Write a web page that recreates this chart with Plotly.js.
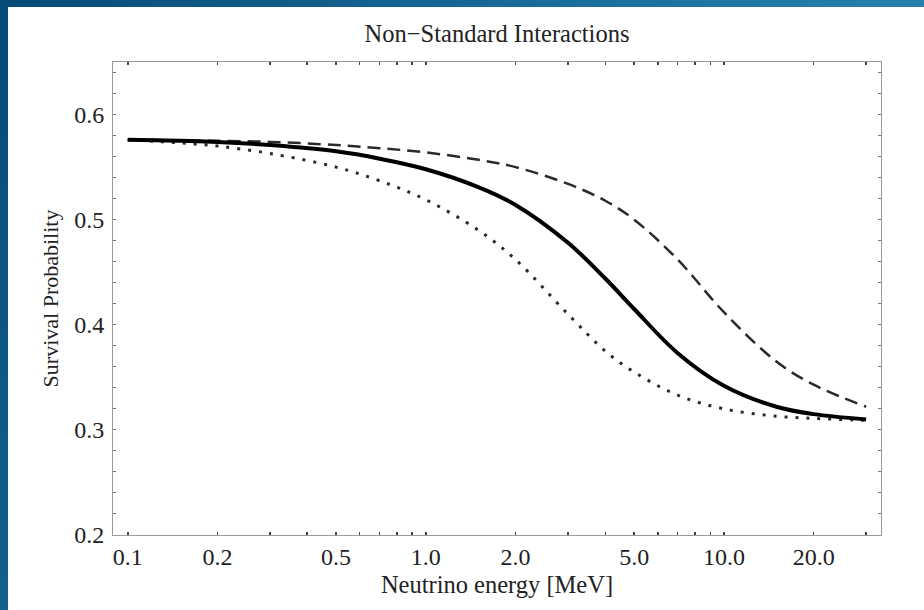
<!DOCTYPE html>
<html>
<head>
<meta charset="utf-8">
<script src="https://cdn.plot.ly/plotly-3.0.1.min.js"></script>
<style>
  html, body { margin: 0; padding: 0; }
  body {
    width: 924px; height: 610px; overflow: hidden;
    background: linear-gradient(120deg, #064a77 0%, #1f76a3 55%, #3590ba 100%);
    position: relative;
  }
  #chart { position: absolute; left: 8px; top: 7px; width: 916px; height: 603px; background: #fff; }
</style>
</head>
<body>
<div id="chart"></div>
<script>
// Neutrino energy (MeV)
const energy = [0.1, 0.15, 0.2, 0.3, 0.5, 0.7, 1, 1.5, 2, 3, 4, 5, 7, 10, 15, 20, 30];
// Survival probability curves
const solidP  = [0.576, 0.575, 0.574, 0.571, 0.565, 0.558, 0.548, 0.531, 0.514, 0.478, 0.444, 0.415, 0.373, 0.342, 0.322, 0.315, 0.310];
const dashedP = [0.576, 0.5755, 0.575, 0.574, 0.571, 0.568, 0.564, 0.557, 0.550, 0.534, 0.518, 0.500, 0.462, 0.412, 0.365, 0.343, 0.322];
const dottedP = [0.576, 0.573, 0.570, 0.563, 0.550, 0.537, 0.519, 0.490, 0.462, 0.410, 0.375, 0.355, 0.333, 0.320, 0.313, 0.311, 0.309];

// Tick labels
const xTickVals = [0.1, 0.2, 0.3, 0.4, 0.5, 0.6, 0.7, 0.8, 0.9, 1, 2, 3, 4, 5, 6, 7, 8, 9, 10, 20, 30];
const xTickText = ["0.1", "0.2", "", "", "0.5", "", "", "", "", "1.0", "2.0", "", "", "5.0", "", "", "", "", "10.0", "20.0", ""];
const yTickVals = [0.2, 0.22, 0.24, 0.26, 0.28, 0.3, 0.32, 0.34, 0.36, 0.38, 0.4, 0.42, 0.44, 0.46, 0.48, 0.5, 0.52, 0.54, 0.56, 0.58, 0.6, 0.62, 0.64];
const yTickText = ["0.2", "", "", "", "", "0.3", "", "", "", "", "0.4", "", "", "", "", "0.5", "", "", "", "", "0.6", "", ""];

const FONT = "Liberation Serif, Times New Roman, serif";

const traces = [
  { x: energy, y: dottedP, mode: "lines", line: { color: "#2a2a2a", width: 3, dash: "3px,8px", shape: "spline" }, hoverinfo: "skip" },
  { x: energy, y: dashedP, mode: "lines", line: { color: "#2a2a2a", width: 2.5, dash: "13px,7px", shape: "spline" }, hoverinfo: "skip" },
  { x: energy, y: solidP,  mode: "lines", line: { color: "#000", width: 4, shape: "spline" }, hoverinfo: "skip" }
];

const layout = {
  width: 916, height: 603,
  paper_bgcolor: "#fff", plot_bgcolor: "#fff",
  showlegend: false,
  margin: { l: 105, r: 43, t: 55, b: 75 },
  font: { family: FONT, size: 24, color: "#222" },
  title: { text: "Non\u2212Standard Interactions", font: { family: FONT, size: 24.5, color: "#222" },
           x: 0.5, xref: "paper", y: 1 - 26 / 603, yref: "container", yanchor: "middle" },
  xaxis: {
    type: "log",
    range: [-1.0495, 1.527],
    tickmode: "array", tickvals: xTickVals, ticktext: xTickText,
    ticks: "inside", ticklen: 3, tickwidth: 1.5, tickcolor: "#444",
    showline: true, linecolor: "#999", linewidth: 1, mirror: "allticks",
    showgrid: false, zeroline: false,
    tickfont: { family: FONT, size: 24, color: "#222" },
    ticklabelstandoff: 0,
    title: { text: "Neutrino energy [MeV]", font: { family: FONT, size: 24.5, color: "#222" }, standoff: 7 },
    automargin: false
  },
  yaxis: {
    range: [0.2, 0.65],
    tickmode: "array", tickvals: yTickVals, ticktext: yTickText,
    ticks: "inside", ticklen: 3, tickwidth: 1, tickcolor: "#777",
    showline: true, linecolor: "#999", linewidth: 1, mirror: "allticks",
    showgrid: false, zeroline: false,
    tickfont: { family: FONT, size: 24, color: "#222" },
    ticklabelstandoff: 3,
    title: { text: "Survival Probability", font: { family: FONT, size: 22, color: "#222" }, standoff: 9 },
    automargin: false
  }
};

Plotly.newPlot("chart", traces, layout, { displayModeBar: false, staticPlot: true });
</script>
</body>
</html>
